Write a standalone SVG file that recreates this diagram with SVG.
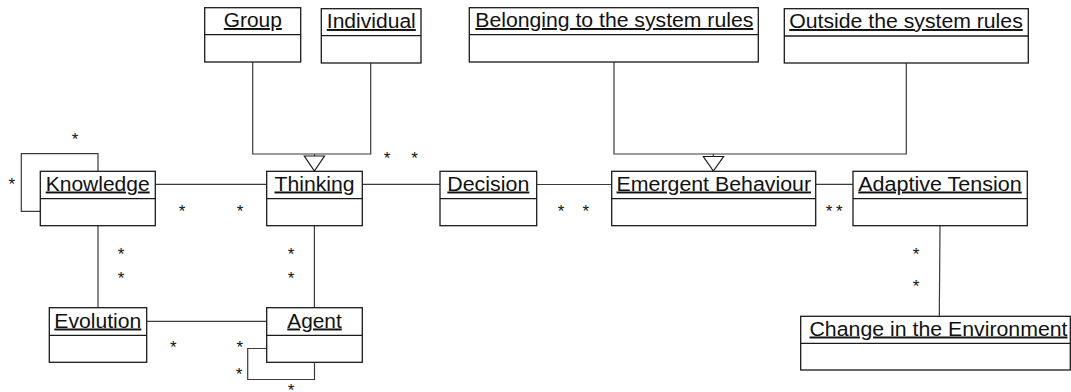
<svg xmlns="http://www.w3.org/2000/svg" width="1071" height="392" viewBox="0 0 1071 392">
  <style>
    .box { fill: #ffffff; stroke: #1a1a1a; stroke-width: 1.3; }
    .div { stroke: #1a1a1a; stroke-width: 1.3; }
    .name { font-family: "Liberation Sans", Arial, sans-serif; font-size: 19.5px; fill: #111111; text-anchor: middle; text-decoration: underline; }
    .conn { fill: none; stroke: #3a3a3a; stroke-width: 1.2; }
    .gen { fill: #ffffff; stroke: #1a1a1a; stroke-width: 1.2; }
    .mult { font-family: "Liberation Sans", Arial, sans-serif; font-size: 17px; fill: #111111; text-anchor: middle; }
  </style>

  <!-- connectors: associations, self-associations and generalisations -->
  <g id="connectors">
    <path class="conn" d="M252.7,62 V154 H370.7 V63"/>
    <path class="conn" d="M314.5,154 V156"/>
    <polygon class="gen" points="304.3,156 324.5,156 314.4,171"/>
    <path class="conn" d="M614,62 V154 H906.3 V63"/>
    <path class="conn" d="M713.4,154 V156.5"/>
    <polygon class="gen" points="703.3,156.5 723.6,156.5 713.4,171"/>
    <path class="conn" d="M155.3,184.3 H266.7"/>
    <path class="conn" d="M362.3,184.3 H440"/>
    <path class="conn" d="M536.7,184.5 H611.7"/>
    <path class="conn" d="M815.7,184.3 H853"/>
    <path class="conn" d="M98,171.3 V153.7 H21.3 V211.3 H40.3"/>
    <path class="conn" d="M98,225.7 V307.7"/>
    <path class="conn" d="M314.4,225.7 V307.7"/>
    <path class="conn" d="M146.7,321.3 H266.7"/>
    <path class="conn" d="M266.7,348.5 H247.7 V379.5 H314.5 V362.3"/>
    <path class="conn" d="M940,225.7 L939.3,316.3"/>
  </g>

  <!-- multiplicities -->
  <g id="multiplicities">
    <text class="mult" x="75" y="145">*</text>
    <text class="mult" x="11.7" y="190.3">*</text>
    <text class="mult" x="182" y="217">*</text>
    <text class="mult" x="240" y="217">*</text>
    <text class="mult" x="387" y="163.5">*</text>
    <text class="mult" x="414.5" y="163.5">*</text>
    <text class="mult" x="561" y="217.3">*</text>
    <text class="mult" x="585.7" y="217.3">*</text>
    <text class="mult" x="829" y="217.3">*</text>
    <text class="mult" x="839.3" y="217.3">*</text>
    <text class="mult" x="121" y="260.3">*</text>
    <text class="mult" x="121" y="284">*</text>
    <text class="mult" x="291" y="260.3">*</text>
    <text class="mult" x="291" y="284">*</text>
    <text class="mult" x="173.3" y="353.3">*</text>
    <text class="mult" x="239.7" y="353.3">*</text>
    <text class="mult" x="239" y="380">*</text>
    <text class="mult" x="291" y="395.5">*</text>
    <text class="mult" x="916" y="260.3">*</text>
    <text class="mult" x="916" y="292">*</text>
  </g>

  <!-- classes -->
  <g id="group">
    <rect class="box" x="204.7" y="7.7" width="96" height="54.3"/>
    <line class="div" x1="204.7" y1="34.7" x2="300.7" y2="34.7"/>
    <text class="name" x="252.8" y="27" textLength="58" lengthAdjust="spacingAndGlyphs">Group</text>
  </g>
  <g id="individual">
    <rect class="box" x="321.3" y="8.7" width="99.7" height="54.3"/>
    <line class="div" x1="321.3" y1="35.7" x2="421" y2="35.7"/>
    <text class="name" x="371.3" y="28" textLength="89" lengthAdjust="spacingAndGlyphs">Individual</text>
  </g>
  <g id="belonging">
    <rect class="box" x="469.3" y="7.7" width="289" height="54.3"/>
    <line class="div" x1="469.3" y1="34.7" x2="758.3" y2="34.7"/>
    <text class="name" x="614.3" y="27" textLength="278" lengthAdjust="spacingAndGlyphs">Belonging to the system rules</text>
  </g>
  <g id="outside">
    <rect class="box" x="784.3" y="8.7" width="244" height="54.3"/>
    <line class="div" x1="784.3" y1="36" x2="1028.3" y2="36"/>
    <text class="name" x="906" y="28" textLength="233.5" lengthAdjust="spacingAndGlyphs">Outside the system rules</text>
  </g>
  <g id="knowledge">
    <rect class="box" x="40.3" y="171.3" width="115" height="54.4"/>
    <line class="div" x1="40.3" y1="198.7" x2="155.3" y2="198.7"/>
    <text class="name" x="97.7" y="190.5" textLength="104" lengthAdjust="spacingAndGlyphs">Knowledge</text>
  </g>
  <g id="thinking">
    <rect class="box" x="266.7" y="171.3" width="95.6" height="54.4"/>
    <line class="div" x1="266.7" y1="198.7" x2="362.3" y2="198.7"/>
    <text class="name" x="314.5" y="190.5" textLength="80" lengthAdjust="spacingAndGlyphs">Thinking</text>
  </g>
  <g id="decision">
    <rect class="box" x="440" y="171.3" width="96.7" height="54.4"/>
    <line class="div" x1="440" y1="198.7" x2="536.7" y2="198.7"/>
    <text class="name" x="488.3" y="190.5" textLength="82" lengthAdjust="spacingAndGlyphs">Decision</text>
  </g>
  <g id="emergent-behaviour">
    <rect class="box" x="611.7" y="171.3" width="204" height="54.4"/>
    <line class="div" x1="611.7" y1="198.7" x2="815.7" y2="198.7"/>
    <text class="name" x="713.8" y="190.5" textLength="194.5" lengthAdjust="spacingAndGlyphs">Emergent Behaviour</text>
  </g>
  <g id="adaptive-tension">
    <rect class="box" x="853" y="171.3" width="174.3" height="54.4"/>
    <line class="div" x1="853" y1="198.7" x2="1027.3" y2="198.7"/>
    <text class="name" x="940" y="190.5" textLength="163.5" lengthAdjust="spacingAndGlyphs">Adaptive Tension</text>
  </g>
  <g id="evolution">
    <rect class="box" x="49.3" y="307.7" width="97.4" height="54.6"/>
    <line class="div" x1="49.3" y1="335.3" x2="146.7" y2="335.3"/>
    <text class="name" x="97.8" y="327.5" textLength="87" lengthAdjust="spacingAndGlyphs">Evolution</text>
  </g>
  <g id="agent">
    <rect class="box" x="266.7" y="307.7" width="95.6" height="54.6"/>
    <line class="div" x1="266.7" y1="335.3" x2="362.3" y2="335.3"/>
    <text class="name" x="314.5" y="327.5" textLength="54.5" lengthAdjust="spacingAndGlyphs">Agent</text>
  </g>
  <g id="change-in-the-environment">
    <rect class="box" x="800.7" y="316.3" width="269.6" height="53.7"/>
    <line class="div" x1="800.7" y1="343.3" x2="1070.3" y2="343.3"/>
    <text class="name" x="938.5" y="335.5" textLength="258" lengthAdjust="spacingAndGlyphs">Change in the Environment</text>
  </g>
</svg>
